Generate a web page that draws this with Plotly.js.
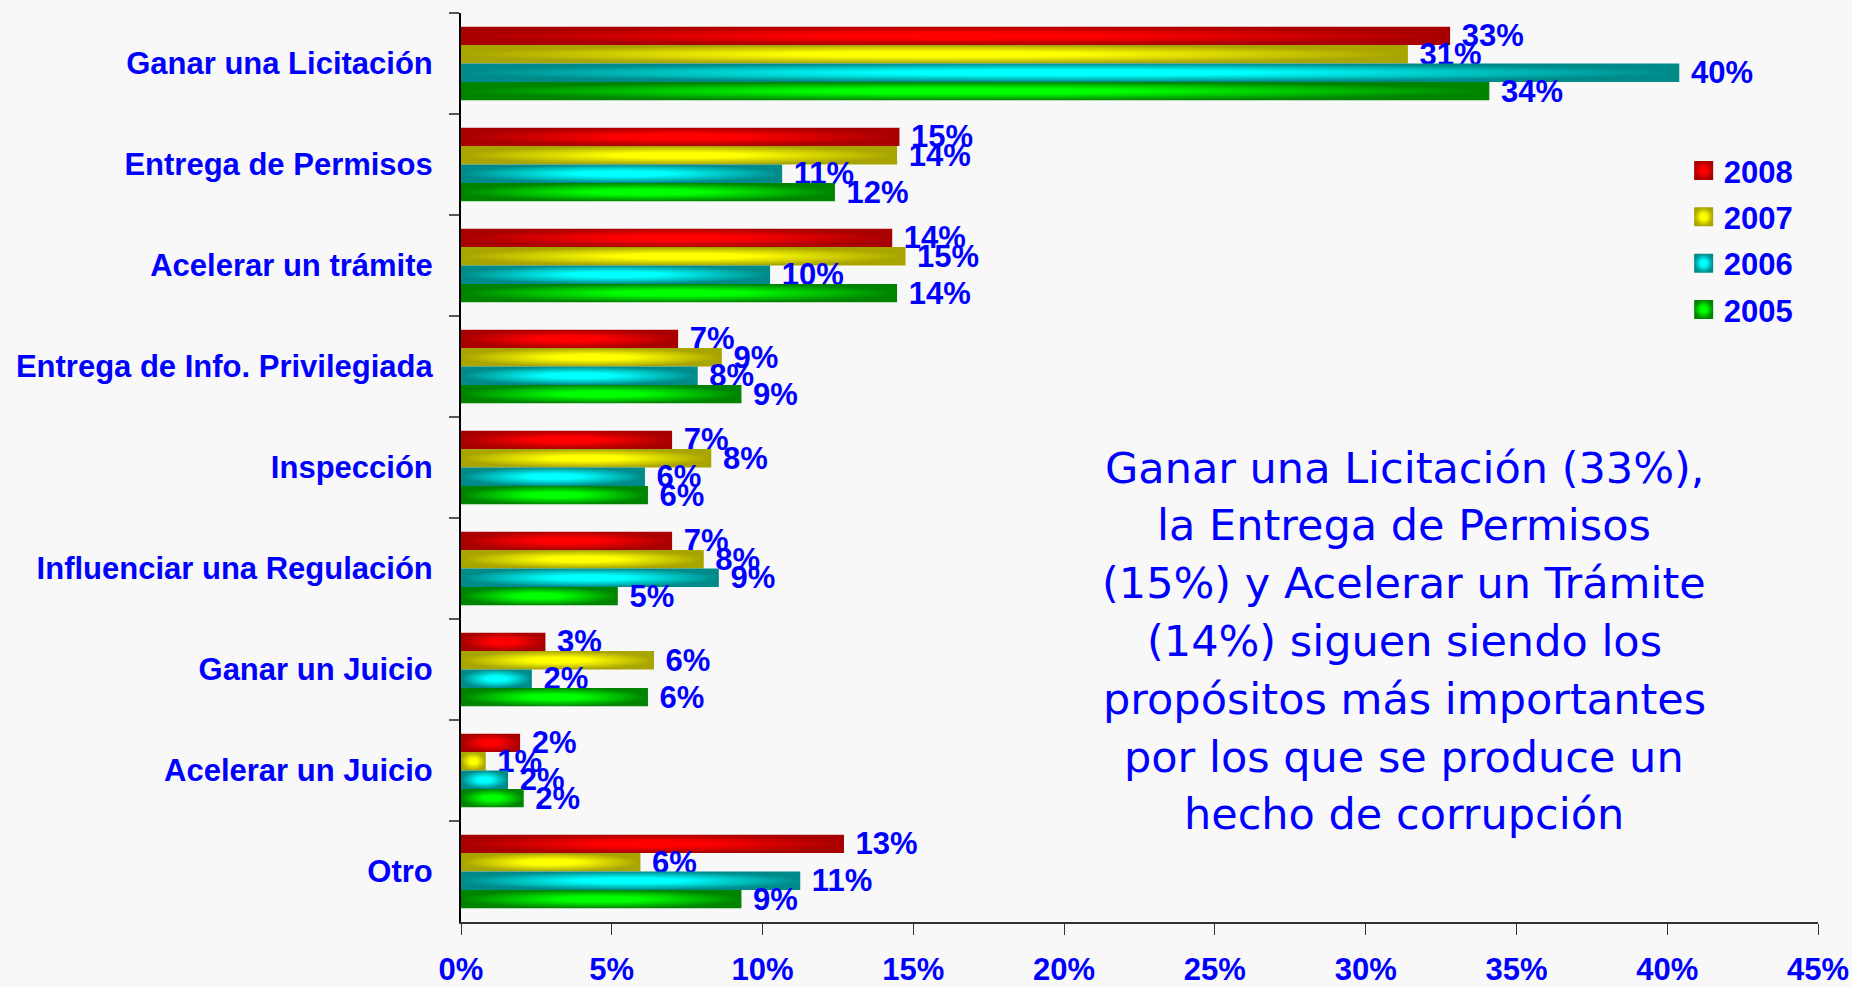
<!DOCTYPE html>
<html>
<head>
<meta charset="utf-8">
<script src="https://cdn.plot.ly/plotly-3.0.1.min.js"></script>
<style>
html,body{margin:0;padding:0;background:#F8F8F8;}
#chart{width:1852px;height:987px;}
</style>
</head>
<body>
<div id="chart"></div>
<script>
// ---- data ----
const categories = ["Ganar una Licitación","Entrega de Permisos","Acelerar un trámite","Entrega de Info. Privilegiada","Inspección","Influenciar una Regulación","Ganar un Juicio","Acelerar un Juicio","Otro"];
const years = ["2008","2007","2006","2005"];
const values2008 = [32.8, 14.54, 14.3, 7.2, 7.0, 7.0, 2.8, 1.96, 12.7];
const values2007 = [31.4, 14.46, 14.74, 8.65, 8.3, 8.05, 6.4, 0.82, 5.95];
const values2006 = [40.4, 10.65, 10.25, 7.85, 6.1, 8.55, 2.35, 1.56, 11.25];
const values2005 = [34.1, 12.4, 14.46, 9.3, 6.2, 5.2, 6.2, 2.08, 9.3];
const xTickValues = [0,5,10,15,20,25,30,35,40,45];
const xTickLabels = ["0%","5%","10%","15%","20%","25%","30%","35%","40%","45%"];
const noteLines = ["Ganar una Licitación (33%),","la Entrega de Permisos","(15%) y Acelerar un Trámite","(14%) siguen siendo los","propósitos más importantes","por los que se produce un","hecho de corrupción"];

// ---- styles ----
const seriesValues = [values2008, values2007, values2006, values2005];
const baseColors   = ['#D80000','#D8D400','#00C4C4','#00C000'];
const brightColors = ['#FF0000','#FFFF00','#00FFFF','#00FF00'];
const darkColors   = ['#A80000','#A8A400','#008A8A','#008400'];
const BLUE = '#0000FF';
const boldFont = '"Liberation Sans", Arial, sans-serif';

const traces = seriesValues.map((vals, i) => ({
  type: 'bar',
  orientation: 'h',
  name: years[i],
  legendgroup: years[i],
  y: categories,
  x: vals,
  text: vals.map(v => '\u00A0' + Math.round(v) + '%'),
  textposition: 'outside',
  textangle: 0,
  constraintext: 'none',
  cliponaxis: false,
  textfont: {family: boldFont, size: 31, color: BLUE, weight: 'bold'},
  marker: {color: baseColors[i], line: {width: 0}},
  hoverinfo: 'skip'
}));

// note text: one annotation per line, evenly spaced
const plotTop = 13, plotBottom = 922, plotH = plotBottom - plotTop;
const noteCenterPx = 641, noteLineGap = 57.8;
const noteAnnotations = noteLines.map((line, k) => ({
  xref: 'paper', yref: 'paper',
  x: 0.695,
  y: (plotBottom - (noteCenterPx + (k - (noteLines.length - 1) / 2) * noteLineGap)) / plotH,
  xanchor: 'center', yanchor: 'middle',
  showarrow: false,
  text: line,
  font: {family: '"DejaVu Sans", Verdana, sans-serif', size: 43, color: BLUE}
}));

const layout = {
  width: 1852,
  height: 987,
  margin: {l: 461, r: 34, t: plotTop, b: 987 - plotBottom, pad: 0},
  paper_bgcolor: '#F8F8F8',
  plot_bgcolor: '#F8F8F8',
  barmode: 'group',
  bargap: 0.27,
  bargroupgap: 0,
  showlegend: true,
  legend: {
    x: 0.901, y: 0.856, xanchor: 'left', yanchor: 'top',
    bgcolor: 'rgba(0,0,0,0)',
    font: {family: boldFont, size: 31, color: BLUE, weight: 'bold'},
    traceorder: 'grouped',
    tracegroupgap: 3,
    itemwidth: 30
  },
  xaxis: {
    range: [0, 45],
    tickmode: 'array',
    tickvals: xTickValues,
    ticktext: xTickLabels,
    showgrid: false,
    zeroline: false,
    showline: true,
    linecolor: '#333333',
    linewidth: 2,
    ticks: 'outside',
    ticklen: 11,
    tickwidth: 1,
    tickcolor: '#333333',
    ticklabelstandoff: 8,
    tickfont: {family: boldFont, size: 31, color: BLUE, weight: 'bold'},
    fixedrange: true
  },
  yaxis: {
    type: 'category',
    autorange: 'reversed',
    showgrid: false,
    zeroline: false,
    showline: true,
    linecolor: '#000000',
    linewidth: 2,
    ticks: 'outside',
    tickson: 'boundaries',
    ticklen: 10,
    tickwidth: 2,
    tickcolor: '#555555',
    ticklabelstandoff: 20,
    tickfont: {family: boldFont, size: 31, color: BLUE, weight: 'bold'},
    fixedrange: true
  },
  annotations: noteAnnotations
};

function applyGradients(gd) {
  const NS = 'http://www.w3.org/2000/svg';
  const svg = gd.querySelector('svg.main-svg');
  if (!svg) return;
  let defs = svg.querySelector('defs');
  if (!defs) { defs = document.createElementNS(NS, 'defs'); svg.insertBefore(defs, svg.firstChild); }
  years.forEach((y, i) => {
    const id = 'tubegrad' + i;
    if (!document.getElementById(id)) {
      const g = document.createElementNS(NS, 'radialGradient');
      g.setAttribute('id', id);
      g.setAttribute('cx', '0.5'); g.setAttribute('cy', '0.5'); g.setAttribute('r', '0.5');
      [[0, brightColors[i]], [0.3, brightColors[i]], [1, darkColors[i]]].forEach(([o, c]) => {
        const s = document.createElementNS(NS, 'stop');
        s.setAttribute('offset', o); s.setAttribute('stop-color', c);
        g.appendChild(s);
      });
      defs.appendChild(g);
    }
  });
  const barTraces = gd.querySelectorAll('.barlayer .trace');
  barTraces.forEach((t, i) => {
    t.querySelectorAll('.point path').forEach(p => { p.style.fill = 'url(#tubegrad' + i + ')'; });
  });
  const legTraces = gd.querySelectorAll('.legend .traces');
  legTraces.forEach((t, i) => {
    t.querySelectorAll('.legendpoints path').forEach(p => {
      p.setAttribute('d', 'M9.5,9.5H-9.5V-9.5H9.5Z');
      p.style.fill = 'url(#tubegrad' + i + ')';
    });
  });
}

const gd = document.getElementById('chart');
Plotly.newPlot(gd, traces, layout, {staticPlot: true, displayModeBar: false}).then(() => {
  applyGradients(gd);
  gd.on && gd.on('plotly_afterplot', () => applyGradients(gd));
});
</script>
</body>
</html>
